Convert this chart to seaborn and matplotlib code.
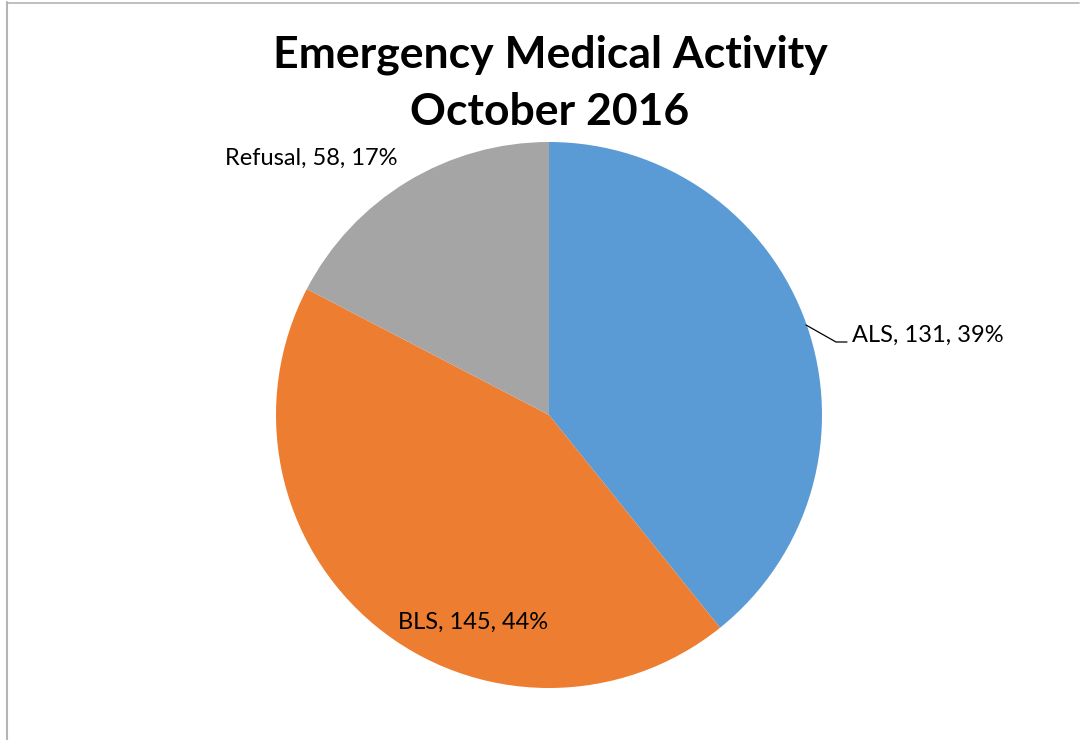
import matplotlib
matplotlib.use('Agg')

from matplotlib import pyplot as plt
from matplotlib.lines import Line2D
import seaborn as sns


CATEGORIES = ['ALS', 'BLS', 'Refusal']
COUNTS = [131, 145, 58]
PERCENTS = [39, 44, 17]   # as printed on the chart
COLORS = ['#5B9BD5', '#ED7D31', '#A5A5A5']

W, H = 1083, 740


def run():
    sns.set_theme(style='white')
    plt.rcParams['font.family'] = ['Lato', 'DejaVu Sans']
    plt.rcParams['text.color'] = 'black'

    fig = plt.figure(figsize=(W / 100, H / 100), dpi=100)
    ax = fig.add_axes([0, 0, 1, 1])

    ax.pie(COUNTS, colors=COLORS, startangle=90, counterclock=False,
           center=(549, H - 415), radius=273,
           wedgeprops=dict(linewidth=0))
    ax.set_xlim(0, W)
    ax.set_ylim(0, H)
    ax.set_aspect('equal')
    ax.axis('off')

    labels = ['{}, {}, {}%'.format(c, v, p)
              for c, v, p in zip(CATEGORIES, COUNTS, PERCENTS)]

    # label placement (pixel coords from top-left)
    spots = [(852, 335), (398, 622), (225, 158)]
    for text, (x, y) in zip(labels, spots):
        ax.text(x, H - y, text, fontsize=17, color='black',
                ha='left', va='center')

    # leader line for ALS
    ax.add_line(Line2D([806, 836, 847], [H - 325, H - 342, H - 342],
                       color='black', linewidth=0.9))

    ax.text(550, H - 55, 'Emergency Medical Activity', fontsize=32,
            fontweight='bold', ha='center', va='center', color='black')
    ax.text(550, H - 112, 'October 2016', fontsize=32,
            fontweight='bold', ha='center', va='center', color='black')

    # chart area border (left + top)
    ax.add_line(Line2D([7, 7], [0, H - 2], color='#B4B4B4', linewidth=1.5))
    ax.add_line(Line2D([7, W - 4], [H - 2.5, H - 2.5], color='#B4B4B4',
                       linewidth=1.2))

    fig.savefig('out.png', dpi=100)


if __name__ == '__main__':
    run()
